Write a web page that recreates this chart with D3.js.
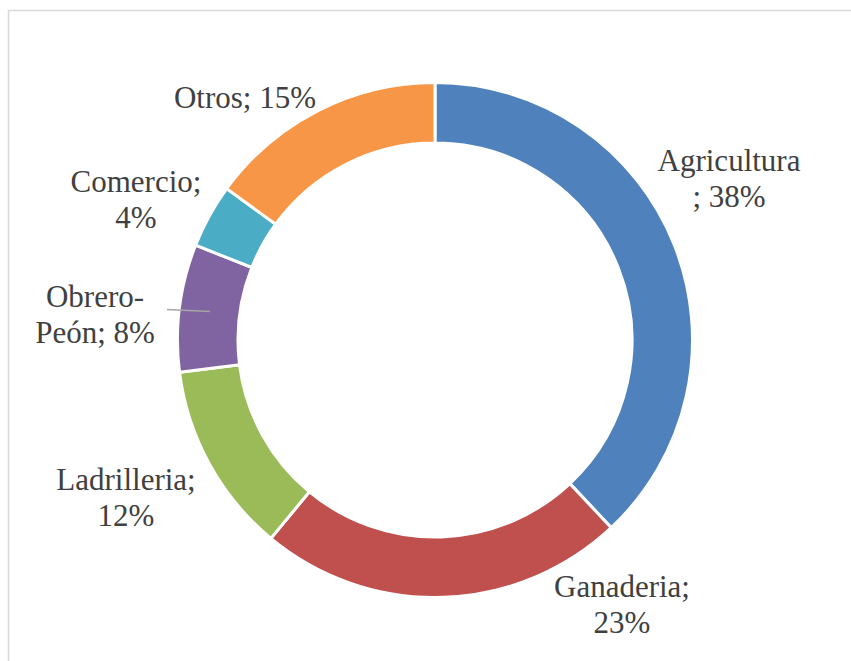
<!DOCTYPE html>
<html>
<head>
<meta charset="utf-8">
<script src="https://cdn.jsdelivr.net/npm/d3@7/dist/d3.min.js"></script>
<style>
  html, body { margin: 0; padding: 0; background: #ffffff; }
  svg { display: block; }
</style>
</head>
<body>
<script>
// Distribución por actividad económica (%)
const categories = ["Agricultura", "Ganaderia", "Ladrilleria", "Obrero-Peón", "Comercio", "Otros"];
const values = [38, 23, 12, 8, 4, 15];
// Text lines of each data label
const labelLines = [
  ["Agricultura", "; 38%"],
  ["Ganaderia;", "23%"],
  ["Ladrilleria;", "12%"],
  ["Obrero-", "Peón; 8%"],
  ["Comercio;", "4%"],
  ["Otros; 15%"]
];
const colors = ["#4F81BD", "#C0504D", "#9BBB59", "#8064A2", "#4BACC6", "#F79646"];

const W = 851, H = 661;
const cx = 435, cy = 340;
const outerR = 257.5, innerR = 197;

// Label anchors (centre x, first baseline y), one per category
const labelAnchors = [
  [729, 171],
  [622, 597],
  [126, 490],
  [95, 307],
  [136, 192],
  [245, 108]
];
const lineHeight = 36;

const svg = d3.select("body").append("svg")
  .attr("width", W)
  .attr("height", H);

// chart area frame
svg.append("rect")
  .attr("x", 8.5).attr("y", 10.5)
  .attr("width", W).attr("height", H)
  .attr("fill", "#ffffff")
  .attr("stroke", "#d9d9d9")
  .attr("stroke-width", 1.5);

const pie = d3.pie().sort(null).value(d => d);
const arcs = pie(values);
const arc = d3.arc().innerRadius(innerR).outerRadius(outerR);

const g = svg.append("g").attr("transform", `translate(${cx},${cy})`);

g.selectAll("path.slice")
  .data(arcs)
  .join("path")
  .attr("class", "slice")
  .attr("d", arc)
  .attr("fill", (d, i) => colors[i])
  .attr("stroke", "#ffffff")
  .attr("stroke-width", 3)
  .attr("stroke-linejoin", "miter");

// leader line for the Obrero-Peón label, ending on the slice's mid-angle
const obIdx = categories.indexOf("Obrero-Peón");
const obMid = (arcs[obIdx].startAngle + arcs[obIdx].endAngle) / 2;
const leadR = 227;
const leadEnd = [Math.sin(obMid) * leadR, -Math.cos(obMid) * leadR];
g.append("line")
  .attr("x1", 167 - cx)
  .attr("y1", leadEnd[1] - 2)
  .attr("x2", leadEnd[0])
  .attr("y2", leadEnd[1])
  .attr("stroke", "#a6a6a6")
  .attr("stroke-width", 1.5);

// data labels, one text element per line
labelLines.forEach((lines, i) => {
  lines.forEach((ln, j) => {
    svg.append("text")
      .attr("x", labelAnchors[i][0])
      .attr("y", labelAnchors[i][1] + j * lineHeight)
      .attr("font-size", 31)
      .attr("fill", "#404040")
      .attr("text-anchor", "middle")
      .style("font-family", '"Liberation Serif", "Times New Roman", serif')
      .text(ln);
  });
});
</script>
</body>
</html>
